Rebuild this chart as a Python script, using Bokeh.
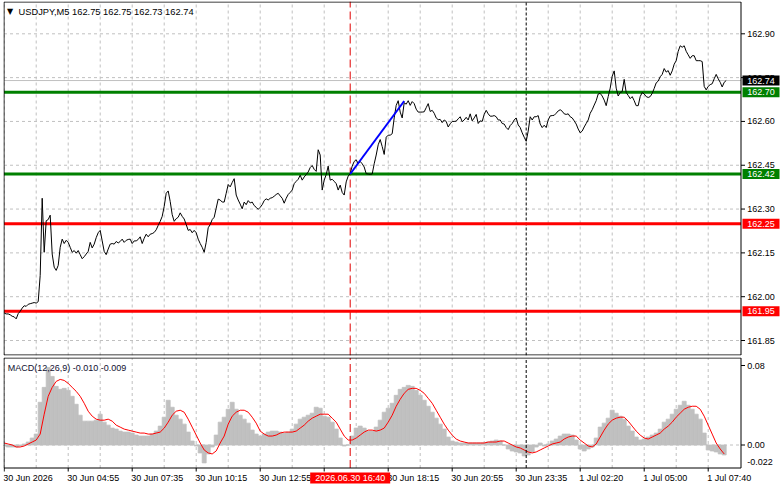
from bokeh.plotting import figure
from bokeh.models import Range1d
from bokeh.layouts import column
from bokeh.core.properties import value
from bokeh.embed import file_html
from bokeh.resources import INLINE

# ---------------- data ----------------
close = [
    161.944, 161.941, 161.941, 161.938, 161.933, 161.931, 161.924, 161.942, 161.950, 161.961,
    161.969, 161.967, 161.974, 161.976, 161.978, 161.980, 161.978, 161.983, 162.073, 162.337,
    162.152, 162.260, 162.264, 162.279, 162.146, 162.101, 162.090, 162.107, 162.169, 162.197,
    162.182, 162.193, 162.186, 162.169, 162.152, 162.158, 162.149, 162.158, 162.144, 162.130,
    162.137, 162.146, 162.155, 162.186, 162.167, 162.180, 162.202, 162.219, 162.227, 162.191,
    162.155, 162.144, 162.163, 162.180, 162.182, 162.180, 162.189, 162.184, 162.189, 162.197,
    162.186, 162.193, 162.196, 162.197, 162.182, 162.191, 162.191, 162.196, 162.205, 162.182,
    162.200, 162.214, 162.205, 162.214, 162.216, 162.220, 162.229, 162.244, 162.258, 162.275,
    162.309, 162.354, 162.362, 162.326, 162.281, 162.258, 162.267, 162.272, 162.287, 162.275,
    162.266, 162.247, 162.227, 162.230, 162.219, 162.227, 162.219, 162.197, 162.182, 162.169,
    162.152, 162.186, 162.236, 162.247, 162.264, 162.272, 162.303, 162.334, 162.331, 162.324,
    162.324, 162.354, 162.384, 162.376, 162.391, 162.404, 162.348, 162.331, 162.317, 162.301,
    162.324, 162.315, 162.329, 162.321, 162.324, 162.312, 162.306, 162.299, 162.306, 162.315,
    162.329, 162.335, 162.331, 162.337, 162.339, 162.344, 162.350, 162.354, 162.345, 162.337,
    162.320, 162.337, 162.350, 162.357, 162.365, 162.387, 162.395, 162.402, 162.416, 162.399,
    162.410, 162.418, 162.427, 162.442, 162.449, 162.436, 162.429, 162.503, 162.485, 162.365,
    162.399, 162.418, 162.447, 162.399, 162.402, 162.395, 162.387, 162.365, 162.382, 162.357,
    162.348, 162.393, 162.413, 162.421, 162.447, 162.463, 162.469, 162.455, 162.463, 162.455,
    162.444, 162.421, 162.420, 162.419, 162.420, 162.455, 162.485, 162.520, 162.538, 162.514,
    162.487, 162.546, 162.553, 162.553, 162.558, 162.612, 162.655, 162.671, 162.632, 162.612,
    162.664, 162.659, 162.671, 162.655, 162.668, 162.661, 162.642, 162.632, 162.632, 162.632,
    162.633, 162.647, 162.661, 162.634, 162.638, 162.628, 162.612, 162.606, 162.607, 162.596,
    162.605, 162.600, 162.581, 162.592, 162.600, 162.600, 162.601, 162.609, 162.616, 162.599,
    162.605, 162.614, 162.605, 162.626, 162.602, 162.612, 162.624, 162.593, 162.602, 162.600,
    162.624, 162.638, 162.626, 162.618, 162.618, 162.620, 162.616, 162.605, 162.605, 162.593,
    162.591, 162.579, 162.572, 162.586, 162.593, 162.605, 162.612, 162.588, 162.579, 162.561,
    162.546, 162.532, 162.567, 162.616, 162.605, 162.616, 162.616, 162.620, 162.591, 162.579,
    162.587, 162.579, 162.605, 162.619, 162.620, 162.621, 162.628, 162.636, 162.640, 162.635,
    162.626, 162.624, 162.626, 162.616, 162.612, 162.602, 162.591, 162.574, 162.561, 162.567,
    162.581, 162.593, 162.605, 162.628, 162.640, 162.656, 162.671, 162.694, 162.696, 162.687,
    162.673, 162.654, 162.685, 162.714, 162.755, 162.773, 162.714, 162.687, 162.699, 162.702,
    162.744, 162.699, 162.689, 162.678, 162.685, 162.671, 162.654, 162.654, 162.685, 162.699,
    162.694, 162.685, 162.682, 162.685, 162.696, 162.713, 162.732, 162.738, 162.753, 162.761,
    162.781, 162.769, 162.774, 162.758, 162.773, 162.796, 162.808, 162.840, 162.859, 162.854,
    162.859, 162.840, 162.828, 162.816, 162.825, 162.825, 162.808, 162.808, 162.808, 162.805,
    162.720, 162.708, 162.720, 162.726, 162.729, 162.746, 162.761, 162.746, 162.734, 162.718,
    162.734, 162.740,
]
bar_idx = list(range(len(close)))

macd_idx = list(range(0, 361, 2))
macd_hist = [
    -0.001, -0.002, -0.002, -0.002, -0.001, 0.001, 0.003, 0.007, 0.011, 0.043,
    0.058, 0.078, 0.069, 0.059, 0.056, 0.057, 0.055, 0.049, 0.041, 0.030,
    0.024, 0.024, 0.024, 0.025, 0.031, 0.023, 0.020, 0.017, 0.016, 0.014,
    0.013, 0.013, 0.012, 0.010, 0.009, 0.009, 0.009, 0.011, 0.014, 0.019,
    0.028, 0.045, 0.038, 0.030, 0.026, 0.021, 0.013, 0.004, -0.001, -0.008,
    -0.018, -0.009, -0.002, 0.010, 0.023, 0.028, 0.036, 0.043, 0.036, 0.030,
    0.026, 0.022, 0.015, 0.011, 0.009, 0.011, 0.013, 0.014, 0.014, 0.013,
    0.012, 0.013, 0.016, 0.021, 0.026, 0.028, 0.030, 0.032, 0.038, 0.037,
    0.029, 0.028, 0.023, 0.016, 0.007, -0.001, 0.000, 0.009, 0.017, 0.019,
    0.017, 0.014,
    0.014, 0.018, 0.025, 0.033, 0.037, 0.042, 0.050, 0.056, 0.058, 0.060,
    0.059, 0.055, 0.050, 0.045, 0.039, 0.033, 0.027, 0.021, 0.016, 0.008,
    0.004, 0.003, 0.002, 0.002, 0.002, 0.002, 0.002, 0.002, 0.002, 0.003,
    0.004, 0.005, 0.004, 0.000, -0.004, -0.006, -0.007, -0.008, -0.011, -0.010,
    -0.007, -0.002, 0.002, -0.001, 0.001, 0.004, 0.006, 0.009, 0.011, 0.011,
    0.010, 0.005, -0.004, -0.006, -0.004, -0.002, 0.007, 0.018, 0.022, 0.027,
    0.035, 0.032, 0.029, 0.026, 0.019, 0.014, 0.008, 0.005, 0.006, 0.008,
    0.010, 0.012, 0.016, 0.023, 0.026, 0.031, 0.036, 0.040, 0.044, 0.040,
    0.036, 0.031, 0.026, 0.012, -0.005, -0.006, -0.007, -0.009, -0.010,
]
macd_signal = [
    0.002, 0.001, 0.000, -0.002, -0.002, -0.001, 0.001, 0.003, 0.005, 0.011,
    0.031, 0.049, 0.058, 0.064, 0.066, 0.065, 0.062, 0.058, 0.054, 0.049,
    0.042, 0.034, 0.029, 0.026, 0.025, 0.025, 0.026, 0.024, 0.020, 0.018,
    0.016, 0.015, 0.014, 0.013, 0.012, 0.012, 0.011, 0.011, 0.012, 0.013,
    0.017, 0.023, 0.030, 0.034, 0.035, 0.033, 0.026, 0.018, 0.010, 0.002,
    -0.005, -0.008, -0.009, -0.006, 0.002, 0.009, 0.021, 0.029, 0.033, 0.035,
    0.035, 0.033, 0.028, 0.022, 0.014, 0.011, 0.009, 0.009, 0.010, 0.012,
    0.013, 0.013, 0.013, 0.014, 0.017, 0.020, 0.024, 0.027, 0.029, 0.031,
    0.031, 0.031, 0.027, 0.023, 0.016, 0.009, 0.005, 0.005, 0.007, 0.010,
    0.013, 0.015,
    0.015, 0.014, 0.015, 0.017, 0.023, 0.030, 0.039, 0.046, 0.052, 0.056,
    0.057, 0.057, 0.055, 0.052, 0.047, 0.042, 0.035, 0.028, 0.021, 0.015,
    0.010, 0.006, 0.004, 0.003, 0.002, 0.002, 0.002, 0.002, 0.002, 0.003,
    0.003, 0.003, 0.004, 0.004, 0.002, 0.000, -0.002, -0.003, -0.005, -0.007,
    -0.008, -0.007, -0.005, -0.003, -0.001, 0.001, 0.002, 0.003, 0.006, 0.008,
    0.009, 0.009, 0.005, 0.002, -0.001, -0.002, 0.001, 0.008, 0.015, 0.021,
    0.025, 0.027, 0.028, 0.028, 0.024, 0.019, 0.014, 0.010, 0.007, 0.006,
    0.008, 0.010, 0.012, 0.016, 0.019, 0.023, 0.028, 0.032, 0.036, 0.038,
    0.039, 0.039, 0.036, 0.029, 0.020, 0.011, 0.002, -0.004, -0.009,
]

green_levels = [162.70, 162.42]
red_levels = [162.25, 161.95]
last_price = 162.74
price_ticks = [162.90, 162.75, 162.60, 162.45, 162.30, 162.15, 162.00, 161.85]
macd_ticks = [0.08, 0.00]
macd_min_label = "-0.022"
time_tick_idx = [0, 32, 64, 96, 128, 160, 192, 224, 256, 288, 320, 352]
time_tick_labels = ["30 Jun 2026", "30 Jun 04:55", "30 Jun 07:35", "30 Jun 10:15",
                    "30 Jun 12:55", "30 Jun 15:35", "30 Jun 18:15", "30 Jun 20:55",
                    "30 Jun 23:35", "1 Jul 02:20", "1 Jul 05:00", "1 Jul 07:40"]
grid_idx = list(range(0, 353, 16))
cursor_idx = 173
cursor_text = "2026.06.30 16:40"
day_sep_idx = 261
trend_idx = [173, 200]
trend_price = [162.42, 162.67]
header_text = "USDJPY,M5  162.75 162.75 162.73 162.74"
macd_text = "MACD(12,26,9) -0.010 -0.009"

# ---------------- layout calibration (pixels -> data) ----------------
FONT = value("Liberation Sans")
FS = value("9px")
GRID = "#c0c0c0"


def ix(px):            # horizontal pixel -> bar index
    return (px - 3.7) / 2.0


def py(y):             # vertical pixel (main panel) -> price
    return 162.90 - (y - 33.3) / 292.1


def my(y):             # vertical pixel (whole page) -> MACD value
    return (444.5 - y) / 993.75


XL, XR = ix(3.5), ix(740.5)
x_range = Range1d(ix(3), ix(781))

# ---------------- main price panel ----------------
p1 = figure(width=781, height=356, x_range=x_range, y_range=Range1d(py(355), py(1)),
            x_axis_location=None, y_axis_location=None,
            toolbar_location=None, output_backend="svg",
            min_border_left=3, min_border_right=0, min_border_top=1, min_border_bottom=1)
p1.background_fill_color = "white"
p1.border_fill_color = "white"
p1.outline_line_color = None
p1.xgrid.grid_line_color = None
p1.ygrid.grid_line_color = None

# grid
p1.segment(x0=grid_idx, y0=[py(355)] * len(grid_idx), x1=grid_idx, y1=[py(1)] * len(grid_idx),
           line_color=GRID, line_dash="3 3", line_width=1)
p1.segment(x0=[XL] * len(price_ticks), y0=price_ticks, x1=[XR] * len(price_ticks),
           y1=price_ticks, line_color=GRID, line_dash="3 3", line_width=1)
# current price line
p1.segment(x0=[XL], y0=[last_price], x1=[XR], y1=[last_price], line_color="#c0c0c0",
           line_width=1)
# vertical markers
p1.segment(x0=[cursor_idx], y0=[py(355)], x1=[cursor_idx], y1=[py(1)],
           line_color="#e00000", line_dash="8 4", line_width=1)
p1.segment(x0=[day_sep_idx], y0=[py(355)], x1=[day_sep_idx], y1=[py(1)],
           line_color="black", line_dash="3 2", line_width=1)
# levels
p1.segment(x0=[XL] * 2, y0=green_levels, x1=[XR] * 2, y1=green_levels,
           line_color="#008000", line_width=3)
p1.segment(x0=[XL] * 2, y0=red_levels, x1=[XR] * 2, y1=red_levels,
           line_color="#ff0000", line_width=3)

# price and trend line
p1.line(bar_idx, close, line_color="black", line_width=1)
p1.line(trend_idx, trend_price, line_color="#0000ff", line_width=2)

# frame border
p1.multi_line(xs=[[XL, XR, XR, XL, XL]], ys=[[py(1.5), py(1.5), py(354.5), py(354.5), py(1.5)]],
              line_color="black", line_width=1)

# right price scale: ticks and labels
p1.segment(x0=[XR] * len(price_ticks), y0=price_ticks, x1=[ix(744.5)] * len(price_ticks),
           y1=price_ticks, line_color="black", line_width=1)
p1.text(x=[ix(746.7)] * len(price_ticks), y=price_ticks,
        text=["%.2f" % t for t in price_ticks], text_font=FONT, text_font_size=FS,
        text_color="black", text_align="left", text_baseline="middle")

# price badges
badge_vals = [last_price] + green_levels + red_levels
badge_cols = ["black", "#008000", "#008000", "#ff0000", "#ff0000"]
p1.rect(x=[ix(760.5)] * 5, y=badge_vals, width=37, height=10, width_units="screen",
        height_units="screen", fill_color=badge_cols, line_color=None)
p1.text(x=[ix(746.7)] * 5, y=badge_vals, text=["%.2f" % v for v in badge_vals],
        text_font=FONT, text_font_size=FS, text_color="white", text_align="left",
        text_baseline="middle")

# header
p1.text(x=[ix(9.5)], y=[py(10.5)], text=["\u25bc"], text_font=value("DejaVu Sans"),
        text_font_size=value("8px"), text_color="black", text_align="center",
        text_baseline="middle")
p1.text(x=[ix(18)], y=[py(11)], text=[header_text], text_font=FONT,
        text_font_size=value("9.3px"), text_color="black", text_align="left",
        text_baseline="middle")

# ---------------- MACD panel ----------------
p2 = figure(width=781, height=133, x_range=x_range, y_range=Range1d(my(489), my(357)),
            x_axis_location=None, y_axis_location=None,
            toolbar_location=None, output_backend="svg",
            min_border_left=3, min_border_right=0, min_border_top=1, min_border_bottom=0)
p2.background_fill_color = "white"
p2.border_fill_color = "white"
p2.outline_line_color = None
p2.xgrid.grid_line_color = None
p2.ygrid.grid_line_color = None

MB, MT = my(467.5), my(357.5)
p2.segment(x0=grid_idx, y0=[MB] * len(grid_idx), x1=grid_idx, y1=[MT] * len(grid_idx),
           line_color=GRID, line_dash="3 3", line_width=1)
p2.segment(x0=[XL], y0=[0], x1=[XR], y1=[0], line_color=GRID, line_dash="3 3", line_width=1)

p2.vbar(x=macd_idx, top=macd_hist, bottom=0, width=2.0, fill_color="#c0c0c0",
        line_color="#c0c0c0", line_width=0.8)
p2.line(macd_idx, macd_signal, line_color="#ff0000", line_width=1)

p2.segment(x0=[cursor_idx], y0=[MB], x1=[cursor_idx], y1=[MT],
           line_color="#e00000", line_dash="8 4", line_width=1)
p2.segment(x0=[day_sep_idx], y0=[MB], x1=[day_sep_idx], y1=[MT],
           line_color="black", line_dash="3 2", line_width=1)

p2.multi_line(xs=[[XL, XR, XR, XL, XL]], ys=[[MT, MT, MB, MB, MT]],
              line_color="black", line_width=1)

p2.text(x=[ix(7.3)], y=[my(367)], text=[macd_text], text_font=FONT, text_font_size=FS,
        text_color="#101030", text_align="left", text_baseline="middle")

# MACD right scale
p2.segment(x0=[XR] * len(macd_ticks), y0=macd_ticks, x1=[ix(744.5)] * len(macd_ticks),
           y1=macd_ticks, line_color="black", line_width=1)
p2.text(x=[ix(746.7)] * (len(macd_ticks) + 1), y=macd_ticks + [my(461)],
        text=["%.2f" % t for t in macd_ticks] + [macd_min_label], text_font=FONT,
        text_font_size=FS, text_color="black", text_align="left", text_baseline="middle")

# time axis
n = len(time_tick_idx)
p2.segment(x0=time_tick_idx, y0=[MB] * n, x1=time_tick_idx, y1=[my(471)] * n,
           line_color="black", line_width=1)
p2.text(x=[t - 0.5 for t in time_tick_idx], y=[my(477.5)] * n, text=time_tick_labels,
        text_font=FONT, text_font_size=FS, text_color="black", text_align="left",
        text_baseline="middle")

# cursor time badge
p2.rect(x=[cursor_idx], y=[my(477.5)], width=80, height=11, width_units="screen",
        height_units="screen", fill_color="#ff0000", line_color=None)
p2.text(x=[cursor_idx], y=[my(477.5)], text=[cursor_text], text_font=FONT,
        text_font_size=FS, text_color="white", text_align="center", text_baseline="middle")

layout = column(p1, p2)
open("out.html", "w").write(file_html(layout, INLINE))
